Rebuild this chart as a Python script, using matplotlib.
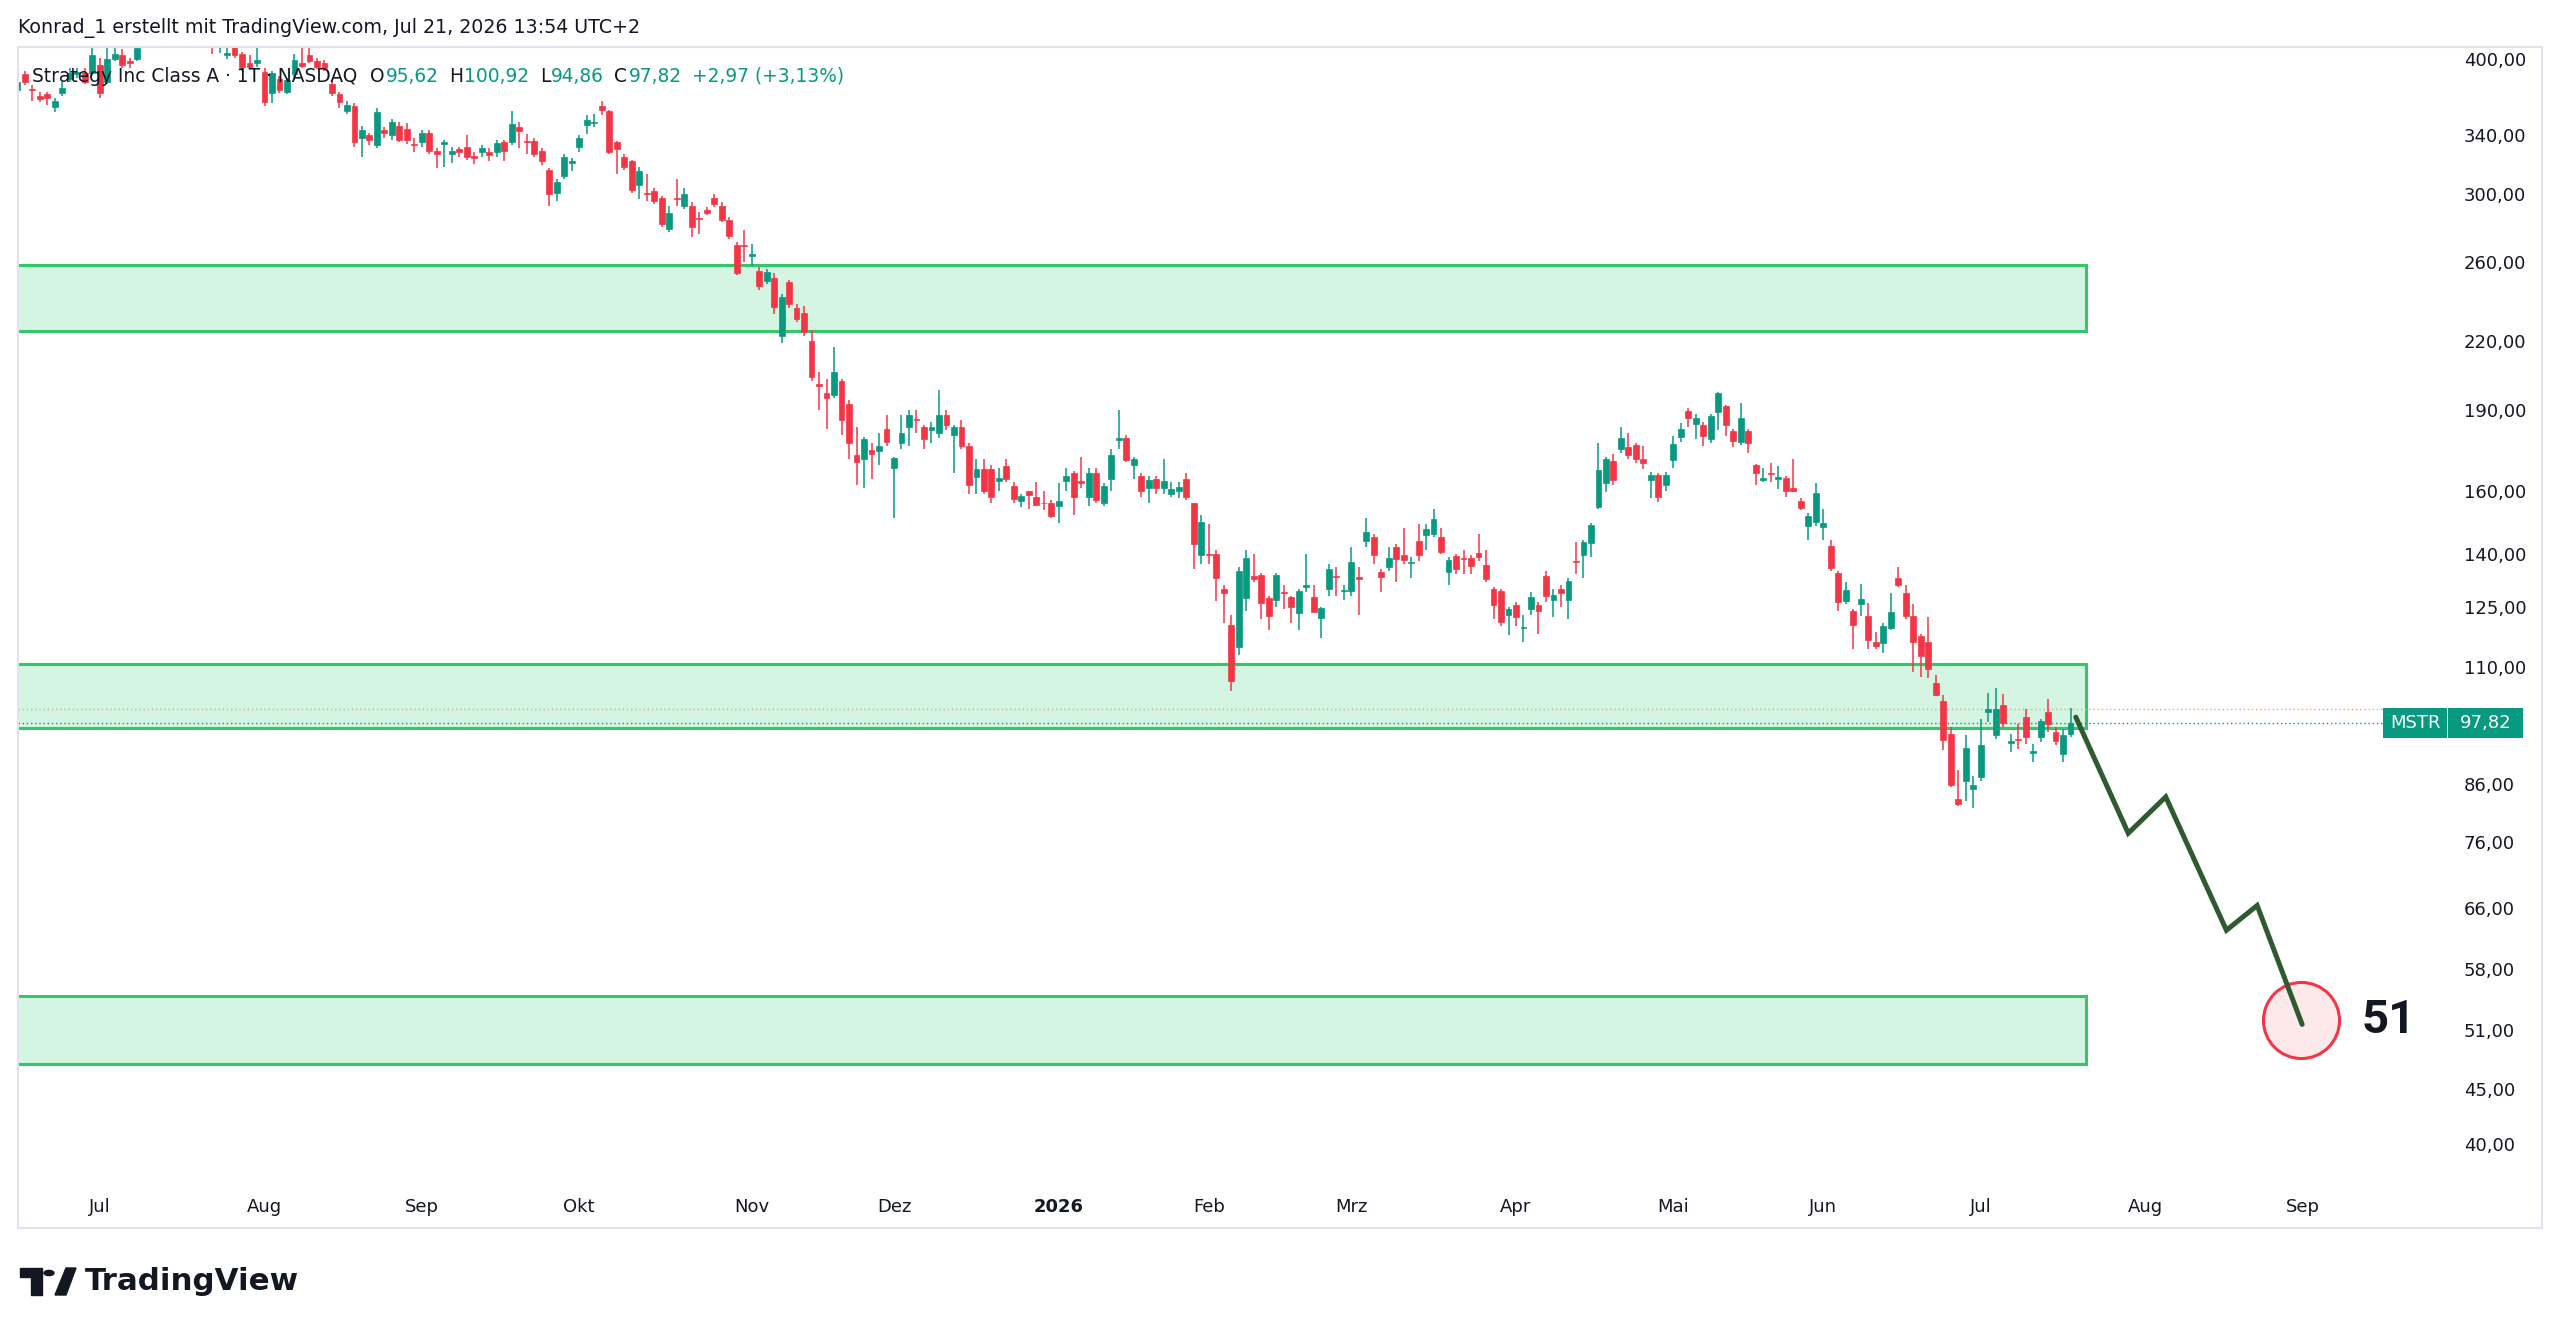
import numpy as np
import pandas as pd
import matplotlib
matplotlib.use("Agg")
import matplotlib.pyplot as plt
from matplotlib.patches import Rectangle, Polygon, Circle
from matplotlib.ticker import FixedLocator, NullLocator, FuncFormatter
from matplotlib.transforms import IdentityTransform

# ---------------- data ----------------
first_session = "2025-06-13"
market_holidays = ["2025-06-19", "2025-07-04", "2025-09-01", "2025-11-27", "2025-12-25",
                   "2026-01-01", "2026-01-19", "2026-02-16", "2026-04-03", "2026-05-25",
                   "2026-06-19", "2026-07-03", "2026-09-07", "2026-11-26", "2026-12-25"]

opens = [374, 387, 375, 370, 371, 361, 372, 383, 387, 388,
         388, 395, 381, 400, 403, 398, 400, 415, 428, 425,
         432, 446, 434, 438, 423, 418, 425, 414, 403.5, 412,
         404, 396, 396, 389, 372, 383, 373, 387, 396, 403,
         398, 396, 379, 371, 358, 362, 338, 340, 333, 344,
         340, 347, 345, 333.5, 335, 342, 329, 334, 327, 330,
         332, 325.5, 328, 328, 328, 335, 335, 346, 336, 336,
         329, 316, 301, 312, 320.5, 332, 347.6, 349, 362, 358,
         335, 325, 322, 306, 301, 302, 298, 279, 297.5, 293,
         293, 285.5, 290, 298, 293, 284, 269.5, 269.5, 263.5, 255,
         249.5, 251, 222, 249, 236, 233.5, 220, 200.5, 197, 196,
         202, 192.5, 172.6, 171, 174.5, 174, 182.5, 167.8, 177, 183,
         186.5, 183, 182, 181, 188, 180, 183, 176, 164.6, 167.7,
         167.7, 163.5, 168.7, 161.5, 156.5, 159.8, 158, 156, 156, 155,
         163.5, 166, 163.5, 158, 166, 156, 164.2, 178.2, 178.8, 169.1,
         165, 161, 164, 161, 159, 160, 164, 155.8, 139.6, 140,
         140, 130, 120.3, 114.8, 127.4, 133.6, 133.8, 127.4, 126.9, 129.2,
         127.6, 123.4, 130.5, 127.8, 122.2, 129.9, 133.6, 129.3, 129.5, 133.2,
         143.7, 145, 134.8, 136, 141.9, 139.5, 137.3, 143.7, 145.6, 146,
         145, 134.8, 139.3, 138.6, 138.7, 140.3, 136.6, 129.8, 129.4, 122.9,
         125.7, 119.6, 124.5, 125.6, 133.6, 127, 129.9, 127, 137.9, 139.5,
         143.1, 154.5, 162.7, 170.3, 174.7, 175.6, 176.2, 171.1, 163.6, 165.5,
         162, 170.9, 179.5, 189.4, 184.5, 184.1, 178.6, 189, 191.4, 181.7,
         177.5, 181.7, 168.9, 163.6, 166.2, 164.2, 164.5, 161.1, 156.7, 148.5,
         149.7, 148.1, 142.3, 134.4, 126.6, 123.9, 125.9, 122.8, 116.2, 115.8,
         119.6, 133.1, 128.7, 122.6, 117.6, 116, 106.4, 102.5, 95.5, 83.3,
         86.4, 85, 87.2, 100.1, 95.3, 101.5, 93.8, 94.5, 99, 91.7,
         95, 100.1, 96, 91.5, 95.62]

highs = [384, 390, 378, 373, 373, 368, 381, 392, 392, 392,
         410, 401, 410, 415, 408, 401, 418, 432, 440, 436,
         455, 452, 445, 442, 430, 425, 440, 430, 415, 418,
         406, 403, 412, 392, 390, 386, 384, 404, 410, 412,
         401, 399, 382, 373, 366, 364, 347, 342, 360, 346,
         352, 350, 349, 338, 344, 344, 331, 337, 332, 332,
         340, 328, 333, 331, 337, 337, 358, 350, 341, 338,
         331, 317, 310, 327, 324, 340, 355, 356, 366, 359,
         336, 327, 323, 318, 313, 304, 299, 293, 310, 304,
         295, 289, 292, 300, 295, 286, 271, 278, 270, 257,
         256, 254, 243, 250, 238, 237, 225, 206, 203, 217,
         203, 194, 183, 179.5, 177, 181, 188, 172, 188, 190,
         190, 184, 185, 198, 190, 184, 186, 177, 171, 171,
         169, 168, 171, 163, 159, 160, 163, 160, 157, 162.5,
         168, 167, 172, 168, 168, 162.5, 175, 190, 180, 172,
         166, 165, 165, 171, 163, 163, 166, 156, 152, 149,
         141, 131, 123, 136, 141, 140, 134.5, 128, 134.5, 131,
         128, 130, 140, 131, 125, 137, 136, 131, 142, 136,
         151, 146, 135.5, 142, 143, 148, 139, 149, 149, 154,
         148, 139, 140, 141, 139.5, 146, 141, 130.5, 130, 125,
         126.5, 123, 129, 126.5, 135, 130, 131, 133, 143.6, 144,
         149.5, 177, 172, 173, 183, 181, 177, 176, 166.6, 166,
         166.6, 179.6, 184.7, 190.6, 188.4, 185, 188.5, 197.5, 192, 182.5,
         192.9, 182.5, 169.5, 168.1, 169.6, 168.7, 165, 171, 157.5, 152.5,
         162.5, 154, 144, 135, 132, 124.5, 131.2, 126, 118.5, 121,
         128.8, 136.2, 131, 125.8, 118, 122.3, 108.2, 103.8, 97, 88.5,
         95.3, 87.4, 98.6, 104.3, 105.3, 103.9, 95.5, 97.5, 100.7, 93.6,
         98.6, 102.8, 97, 96.6, 100.92]

lows = [370, 378, 366, 365, 363, 357, 370, 381, 384, 379,
        386, 368, 379, 398, 392, 392, 398, 412, 420, 418,
        428, 430, 425, 418, 414, 412, 404, 405, 400, 401,
        390, 391, 393, 362, 364, 372, 371, 385, 392, 396,
        391, 390, 370, 360, 356, 332, 325, 333, 331, 338,
        337, 335, 334, 328, 332, 327, 317, 318, 321, 325,
        323, 320, 325, 322, 325, 322, 333, 331, 327, 325,
        319, 293, 296, 310, 315, 328, 341, 346, 355, 327,
        313, 316, 301, 297, 296, 294, 280, 277, 293, 291,
        274, 276, 287, 292, 283, 273, 253, 260, 258, 245,
        248, 233, 219, 236, 229, 222, 202, 190, 182.5, 195,
        180, 171, 162, 161, 164, 169, 176, 151, 175, 176,
        181, 175, 177, 179, 182, 166, 175, 159, 159, 159,
        156, 160, 163, 156, 154.5, 154, 155, 153.5, 151, 149.5,
        160, 152, 161, 155, 156, 155, 160, 175, 170, 164,
        158, 156, 159, 159, 158, 157.5, 157, 135.5, 137, 137,
        126.7, 121, 104.6, 113, 124, 132, 122, 119, 125, 124.5,
        121, 119, 129, 124, 117, 128, 128, 127, 128, 123,
        142, 137, 129, 135, 132, 137, 133, 138, 141, 145,
        140, 131, 134, 134, 134, 138, 132, 122, 120, 117.9,
        120, 116, 123, 118, 126.5, 122.5, 125, 122, 134, 133,
        139, 154, 159.5, 162, 173.5, 171, 169.7, 167.7, 157.6, 156.4,
        160, 168, 177.5, 183, 178.7, 175.8, 177, 182, 179.6, 175.6,
        176.5, 173.3, 162, 163, 162.9, 160.6, 158, 159.5, 153.6, 144.2,
        148.5, 144.2, 135, 124, 125.8, 114.4, 122.8, 114.4, 114.4, 113.5,
        119, 130.5, 122, 109, 107.9, 107.5, 103.5, 92.4, 85.3, 82,
        82.9, 81.6, 86.5, 98, 94.5, 97, 92, 92.6, 93.6, 90,
        94, 96, 93.3, 90, 94.86]

closes = [381, 381, 374, 367, 368, 366, 376, 388, 389, 381,
          403, 372, 400, 404, 395, 396, 409, 428, 425, 431,
          448, 434, 440, 422, 418, 416, 415, 420, 404.5, 403,
          393, 393, 399, 365, 388, 374.5, 382, 399, 394, 398,
          393, 392, 372, 365, 362.7, 335, 344, 337, 357, 342,
          350, 337, 337, 333, 342, 329, 327, 335, 329, 328,
          325, 324, 331, 326, 334.5, 329, 348, 343, 335, 327,
          322, 300, 308, 325, 322, 338, 351.4, 350, 358.7, 328,
          330, 318, 303, 315, 300, 296, 282, 288.7, 297, 300,
          280, 285, 288.5, 294, 284, 274.5, 254, 269, 264.5, 247,
          254.5, 236.5, 241.3, 238, 230.5, 224, 203.5, 200, 195, 206,
          186, 177, 170, 178.6, 173, 176, 177.3, 171.5, 181, 188,
          186, 178.5, 183, 188, 184, 183, 176, 162, 167.5, 160,
          158, 164.5, 164, 157.3, 158.2, 158.7, 155.2, 155.8, 151.6, 156.5,
          165, 158, 162.5, 166.3, 157, 161.8, 172.6, 179, 170.9, 171,
          160, 163.8, 161, 163.3, 160.5, 161.2, 158, 143, 149.6, 139.6,
          133, 128.8, 106.9, 135, 138.6, 132.7, 126.1, 122.8, 133.9, 128.8,
          125, 129.4, 131, 123.8, 124.7, 135.5, 133.4, 129.6, 137.6, 132.6,
          146.5, 139.5, 133.3, 138.7, 138.4, 138.2, 137.5, 139.5, 147.6, 150.6,
          140.5, 138.2, 135.5, 138.4, 136.3, 138.9, 132.7, 125.7, 121.2, 124.4,
          122.5, 119.8, 127.6, 124.1, 127.9, 128.2, 128.9, 132.2, 137.5, 143.6,
          148.9, 167.2, 171.2, 163.6, 178.9, 172.5, 171.2, 169.6, 165.5, 157.8,
          165.3, 176.8, 182.6, 186.8, 186.8, 179.6, 187.4, 196.7, 183.9, 177.8,
          186.8, 177.2, 166, 164.3, 165.9, 164.7, 159.8, 159.8, 154.2, 151.7,
          159.1, 149.4, 135.9, 126.3, 129.6, 120.4, 127.3, 116.6, 115.2, 120.1,
          123.8, 130.9, 122.6, 116.2, 112.6, 109.7, 103.8, 94.3, 85.8, 82.4,
          92.7, 85.8, 93.3, 100.8, 100.8, 97.8, 94.1, 94.3, 95, 92.2,
          98.1, 97.5, 94.1, 95.3, 97.82]

symbol = "MSTR"
premarket_price = 100.8
zones = [(224.7, 258.3), (96.8, 110.8), (47.4, 54.8)]   # (low, high)
zone_end_date = "2026-07-22"
forecast_offsets = [0.7, 7.7, 12.7, 20.8, 24.9, 30.9]   # sessions after last candle
forecast_prices = [99.0, 77.4, 83.6, 63.0, 66.4, 51.6]
target_label = "51"
target_price = 52.1
price_ticks = [400, 340, 300, 260, 220, 190, 160, 140, 125, 110, 86, 76, 66, 58, 51, 45, 40]
month_names = {2: "Feb", 3: "Mrz", 4: "Apr", 5: "Mai", 6: "Jun", 7: "Jul",
               8: "Aug", 9: "Sep", 10: "Okt", 11: "Nov", 12: "Dez"}
header = "Konrad_1 erstellt mit TradingView.com, Jul 21, 2026 13:54 UTC+2"
legend_title = "Strategy Inc Class A · 1T · NASDAQ"
legend_ohlc = [("O", "95,62"), ("H", "100,92"), ("L", "94,86"), ("C", "97,82")]
legend_change = "+2,97 (+3,13%)"

# ---------------- style / layout ----------------
W, H, DPI = 2560, 1335, 100
GREEN, RED = "#089981", "#F23645"
DARK = "#131722"
PL, PR, PT, PB = 18, 2447, 47, 1183          # plot area in px
BAR0_PX, BAR_PX = 17.2, 7.494
YMIN, YMAX = 36.86, 410.1

O = np.array(opens, float); Hh = np.array(highs, float)
L = np.array(lows, float); C = np.array(closes, float)
n = len(O)
x = np.arange(n)

sessions = pd.bdate_range(first_session, "2026-12-31", freq="C", holidays=market_holidays)
month_idx = [i for i in range(1, len(sessions)) if sessions[i].month != sessions[i - 1].month]
zone_end = int(sessions.get_loc(pd.Timestamp(zone_end_date)))

plt.rcParams["font.family"] = ["DejaVu Sans"]
fig = plt.figure(figsize=(W / DPI, H / DPI), dpi=DPI)
fig.patch.set_facecolor("white")
ax = fig.add_axes([PL / W, 1 - PB / H, (PR - PL) / W, (PB - PT) / H])
ax.set_facecolor("white")
ax.set_yscale("log")
ax.set_xlim((PL - BAR0_PX) / BAR_PX, (PR - BAR0_PX) / BAR_PX)
ax.set_ylim(YMIN, YMAX)
for s in ax.spines.values():
    s.set_visible(False)

# zones
for lo, hi in zones:
    ax.add_patch(Rectangle((-10, lo), zone_end + 10, hi - lo, facecolor="#d4f5e1",
                           edgecolor="#33c76a", lw=2.2, zorder=1))

# price lines
ax.axhline(premarket_price, color="#f2a65a", lw=1.0, ls=(0, (1, 2)), zorder=2)
ax.axhline(C[-1], color=GREEN, lw=1.0, ls=(0, (1, 2)), zorder=2)

# candles
up = C >= O
cols = np.where(up, GREEN, RED)
ax.vlines(x, L, Hh, colors=cols, lw=1.1, zorder=3)
ax.bar(x, np.abs(C - O), bottom=np.minimum(O, C), width=0.78, color=cols,
       edgecolor=cols, linewidth=0.5, zorder=4)

# forecast
fx_ = (n - 1) + np.array(forecast_offsets)
ax.scatter([fx_[-1] - 0.1], [target_price], s=3000, facecolor="#fde8ea",
           edgecolor="#f23645", lw=2.2, zorder=5, clip_on=False)
ax.plot(fx_, forecast_prices, color="#2f5a30", lw=3.6, zorder=6,
        solid_capstyle="round", solid_joinstyle="miter")
ax.text(fx_[-1] + 11.6, target_price, target_label, fontsize=34, fontweight="bold",
        family=["Roboto", "DejaVu Sans"], color=DARK, ha="center", va="center", zorder=7)

# axes ticks
ax.yaxis.tick_right()
ax.yaxis.set_major_locator(FixedLocator(price_ticks))
ax.yaxis.set_minor_locator(NullLocator())
ax.yaxis.set_major_formatter(FuncFormatter(lambda v, p: f"{v:.2f}".replace(".", ",")))
ax.tick_params(axis="y", length=0, pad=12, labelsize=13, labelcolor=DARK)
xt = [i for i in month_idx if ax.get_xlim()[0] < i < ax.get_xlim()[1]]
xl = [str(sessions[i].year) if sessions[i].month == 1 else month_names[sessions[i].month] for i in xt]
ax.set_xticks(xt)
ax.set_xticklabels(xl)
ax.xaxis.set_minor_locator(NullLocator())
ax.tick_params(axis="x", length=0, pad=11, labelsize=13, labelcolor=DARK)
for t in ax.get_xticklabels():
    if t.get_text().isdigit():
        t.set_fontweight("bold")

# outer frame
fig.add_artist(Rectangle((PL / W, 1 - 1228 / H), (2542 - PL) / W, (1228 - PT) / H,
                         transform=fig.transFigure, fill=False, edgecolor="#e0e3eb", lw=1.5))

# last price label
yd = ax.transData.transform((0, C[-1]))[1]
fig.add_artist(Rectangle((2383, yd - 15), 64, 30, transform=IdentityTransform(),
                         facecolor=GREEN, edgecolor="none"))
fig.add_artist(Rectangle((2448, yd - 15), 75, 30, transform=IdentityTransform(),
                         facecolor=GREEN, edgecolor="none"))
fig.text(2415, yd, symbol, transform=IdentityTransform(), color="white", fontsize=13,
         ha="center", va="center")
fig.text(2485.5, yd, f"{C[-1]:.2f}".replace(".", ","), transform=IdentityTransform(),
         color="white", fontsize=13, ha="center", va="center")

renderer = fig.canvas.get_renderer()


def fitted(xp, yp, s, target_w, size0, **kw):
    t = fig.text(xp / W, 1 - yp / H, s, fontsize=size0, va="center", ha="left", **kw)
    w = t.get_window_extent(renderer=renderer).width
    t.set_fontsize(size0 * target_w / w)
    return t


fitted(18, 28, header, 622, 13, color=DARK)
tt = fitted(31.6, 76, legend_title, 325, 13, color=DARK)
fs = tt.get_fontsize()
xs = [(370, 386), (449.5, 464), (540, 551), (614, 628.6)]
for (k, v), (xk, xv) in zip(legend_ohlc, xs):
    fig.text(xk / W, 1 - 76 / H, k, fontsize=fs, color=DARK, va="center")
    fig.text(xv / W, 1 - 76 / H, v, fontsize=fs, color=GREEN, va="center")
fig.text(691.7 / W, 1 - 76 / H, legend_change, fontsize=fs, color=GREEN, va="center")

# TradingView logo
def fpoly(pts, **kw):
    fig.add_artist(Polygon([(px / W, 1 - py / H) for px, py in pts], closed=True,
                           transform=fig.transFigure, **kw))

fpoly([(20, 1268), (42, 1268), (42, 1295), (31, 1295), (31, 1277), (20, 1277)], color=DARK)
fig.add_artist(Circle((49 / W, 1 - 1273 / H), 5 / W, transform=fig.transFigure, color=DARK))
fpoly([(55, 1295), (66, 1268), (76, 1268), (66, 1295)], color=DARK)
fitted(85, 1281, "TradingView", 214, 24, color=DARK, fontweight="bold")

fig.savefig("out.png", dpi=DPI, facecolor="white")
